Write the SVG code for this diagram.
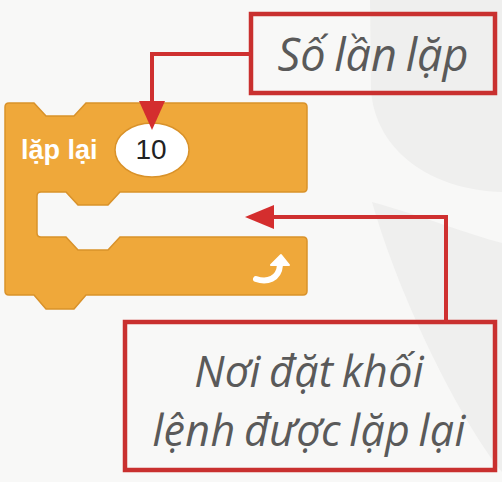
<svg xmlns="http://www.w3.org/2000/svg" width="502" height="482" viewBox="0 0 502 482">
<style>
.conn{fill:none;stroke:#cf3030;stroke-width:4}
.head{fill:#d42e2e}
.box{fill:none;stroke:#c9302f;stroke-width:4.5}
.cap{font-family:"Open Sans","Noto Sans",sans-serif;font-style:italic;fill:#5a5a5a;font-size:45px;text-anchor:middle;word-spacing:-3px}
.cap2{font-size:43px;letter-spacing:0.3px}
</style>
<rect width="502" height="482" fill="#f8f8f7"/>
<path d="M370,0 H502 V192 C430,190 375,150 371,90 Z" fill="#efefee"/>
<path d="M372,202 C420,215 470,235 502,243 V472 C460,420 400,300 372,202 Z" fill="#efefee"/>
<g id="repeat-block">
<path d="M5,107 Q5,103 9,103 H34 L46,116 H74 L86,103 H303 Q307,103 307,107 V188 Q307,192 303,192 H120 L108,205 H78 L66,192 H41 Q37,192 37,196 V233 Q37,237 41,237 H66 L78,250 H108 L120,237 H303 Q307,237 307,241 V291 Q307,295 303,295 H86 L74,309 H46 L34,295 H9 Q5,295 5,291 Z" fill="#efa83a" stroke="#d9922a" stroke-width="1.5"/>
<text x="21" y="159" font-family="Liberation Sans,Arial,sans-serif" font-weight="bold" font-size="27" fill="#ffffff">lặp lại</text>
<ellipse cx="152" cy="150" rx="37" ry="27" fill="#ffffff" stroke="#d9922a" stroke-width="1.5"/>
<text x="151" y="159" font-family="Liberation Sans,Arial,sans-serif" font-size="28" fill="#222222" text-anchor="middle">10</text>
<path d="M256,279 C267,283 279,279 280,265" fill="none" stroke="#ffffff" stroke-width="6" stroke-linecap="round"/>
<polygon points="271,265 289,265 281,255" fill="#ffffff" stroke="#ffffff" stroke-width="2" stroke-linejoin="round"/>
</g>
<g id="callout-count">
<rect class="box" x="251" y="14" width="244" height="79"/>
<text class="cap" x="373" y="71">Số lần lặp</text>
</g>
<g id="callout-body">
<rect class="box" x="125" y="322" width="370" height="148"/>
<text class="cap cap2"><tspan x="309" y="387">Nơi đặt khối</tspan><tspan x="309" y="446">lệnh được lặp lại</tspan></text>
</g>
<g id="connectors">
<path class="conn" d="M251,54 H152 V104"/>
<polygon class="head" points="139,101 165,101 152,130"/>
<path class="conn" d="M446,322 V217 H272"/>
<polygon class="head" points="274,205 274,229 245,217"/>
</g>
</svg>
